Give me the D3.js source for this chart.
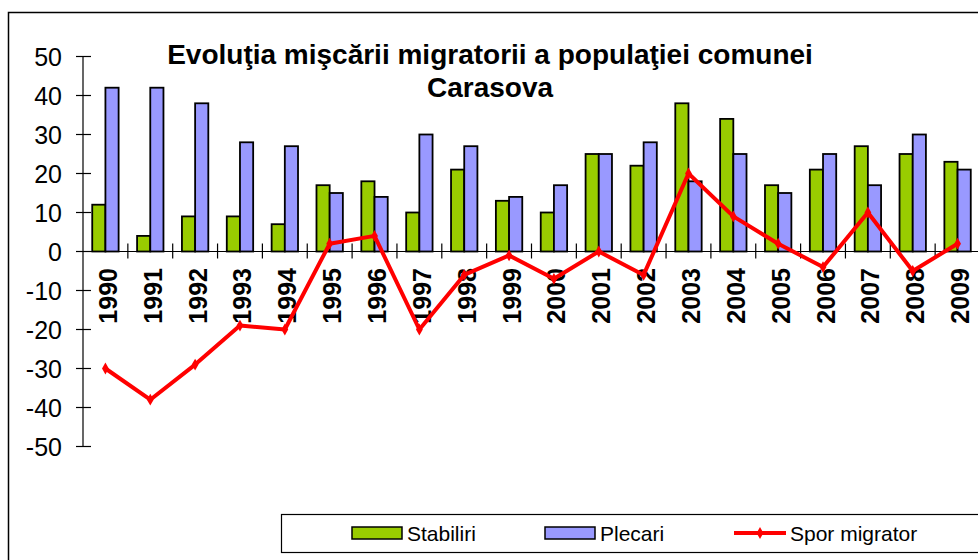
<!DOCTYPE html>
<html>
<head>
<meta charset="utf-8">
<script src="https://cdn.jsdelivr.net/npm/d3@7"></script>
<style>
  html, body { margin: 0; padding: 0; background: #fff; overflow: hidden; }
  svg { display: block; font-family: Arial, "Liberation Sans", sans-serif; }
</style>
</head>
<body>
<svg id="chart" width="978" height="560"></svg>
<script>
// Data.
const years = ['1990', '1991', '1992', '1993', '1994', '1995', '1996', '1997', '1998', '1999',
  '2000', '2001', '2002', '2003', '2004', '2005', '2006', '2007', '2008', '2009'];
const stabiliri = [12, 4, 9, 9, 7, 17, 18, 10, 21, 13, 10, 25, 22, 38, 34, 17, 21, 27, 25, 23];
const plecari = [42, 42, 38, 28, 27, 15, 14, 30, 27, 14, 17, 25, 28, 18, 25, 15, 25, 17, 30, 21];
const sporMigrator = [-30, -38, -29, -19, -20, 2, 4, -20, -6, -1, -7, 0, -6, 20, 9, 2, -4, 10, -5, 2];
const yTicks = [50, 40, 30, 20, 10, 0, -10, -20, -30, -40, -50];
const titleLines = ['Evoluţia mişcării migratorii a populaţiei comunei', 'Carasova'];

const barSeries = [
  { name: 'Stabiliri', values: stabiliri, color: '#99cc00' },
  { name: 'Plecari', values: plecari, color: '#9999ff' }
];

const svg = d3.select('#chart');

// Outer chart frame (runs off the right and bottom edges).
svg.append('rect')
  .attr('x', 8.5).attr('y', 12.5)
  .attr('width', 1100).attr('height', 700)
  .attr('fill', '#fff')
  .attr('stroke', '#000')
  .attr('stroke-width', 1.5);

const x = d3.scaleBand().domain(years).range([83, 980]).padding(0);
const xs = d3.scaleBand().domain(barSeries.map((s) => s.name))
  .range([0, x.bandwidth()]).paddingInner(0).paddingOuter(0.7);
const y = d3.scaleLinear().domain([-50, 50]).range([446.5, 56.5]);

// Bars
const groups = svg.append('g').selectAll('g')
  .data(barSeries)
  .join('g')
  .attr('fill', (d) => d.color);

groups.selectAll('rect')
  .data((s) => s.values.map((v, i) => ({ name: s.name, year: years[i], value: v })))
  .join('rect')
  .attr('x', (d) => x(d.year) + xs(d.name))
  .attr('width', xs.bandwidth())
  .attr('y', (d) => y(Math.max(0, d.value)))
  .attr('height', (d) => Math.abs(y(d.value) - y(0)))
  .attr('stroke', '#000')
  .attr('stroke-width', 1.8);

// Y axis (crossing ticks)
const yAxis = svg.append('g').attr('class', 'y-axis');
yAxis.append('line')
  .attr('x1', 83).attr('x2', 83)
  .attr('y1', y(50)).attr('y2', y(-50))
  .attr('stroke', '#000').attr('stroke-width', 1.2);
yAxis.selectAll('line.tick')
  .data(yTicks)
  .join('line')
  .attr('class', 'tick')
  .attr('x1', 76).attr('x2', 91)
  .attr('y1', (d) => y(d)).attr('y2', (d) => y(d))
  .attr('stroke', '#000').attr('stroke-width', 1.2);
yAxis.selectAll('text')
  .data(yTicks)
  .join('text')
  .attr('x', 62)
  .attr('y', (d) => y(d) + 9)
  .attr('text-anchor', 'end')
  .attr('font-size', 25)
  .attr('fill', '#000')
  .text((d) => d);

// X axis at zero
const xAxis = svg.append('g').attr('class', 'x-axis');
xAxis.append('line')
  .attr('x1', 83).attr('x2', 980)
  .attr('y1', y(0)).attr('y2', y(0))
  .attr('stroke', '#000').attr('stroke-width', 1.2);
xAxis.selectAll('line.tick')
  .data(years.slice(1))
  .join('line')
  .attr('class', 'tick')
  .attr('x1', (d) => x(d)).attr('x2', (d) => x(d))
  .attr('y1', y(0) - 8).attr('y2', y(0) + 7)
  .attr('stroke', '#000').attr('stroke-width', 1.2);
xAxis.selectAll('text')
  .data(years)
  .join('text')
  .attr('transform', (d) => `translate(${x(d) + x.bandwidth() / 2 + 11.5},268) rotate(-90)`)
  .attr('text-anchor', 'end')
  .attr('font-size', 25)
  .attr('font-weight', 'bold')
  .attr('fill', '#000')
  .text((d) => d);

// Spor migrator line
const linePts = sporMigrator.map((v, i) => ({ year: years[i], value: v }));
const line = d3.line()
  .x((d) => x(d.year) + x.bandwidth() / 2)
  .y((d) => y(d.value));
svg.append('path')
  .datum(linePts)
  .attr('d', line)
  .attr('fill', 'none')
  .attr('stroke', '#ff0000')
  .attr('stroke-width', 4)
  .attr('stroke-linejoin', 'round');
svg.append('g').selectAll('path')
  .data(linePts)
  .join('path')
  .attr('transform', (d) => `translate(${x(d.year) + x.bandwidth() / 2},${y(d.value)})`)
  .attr('d', d3.symbol(d3.symbolDiamond, 40))
  .attr('fill', '#ff0000');

// Title
svg.append('text')
  .attr('x', 490)
  .attr('text-anchor', 'middle')
  .attr('font-size', 28)
  .attr('font-weight', 'bold')
  .attr('fill', '#000')
  .selectAll('tspan')
  .data(titleLines)
  .join('tspan')
  .attr('x', 490)
  .attr('y', (d, i) => 64 + i * 33)
  .text((d) => d);

// Legend
const legend = svg.append('g').attr('class', 'legend');
legend.append('rect')
  .attr('x', 281.5).attr('y', 514.5)
  .attr('width', 800).attr('height', 38)
  .attr('fill', '#fff')
  .attr('stroke', '#000').attr('stroke-width', 1.2);
const legendX = [352, 545];
barSeries.forEach((s, i) => {
  legend.append('rect')
    .attr('x', legendX[i]).attr('y', 527)
    .attr('width', 50).attr('height', 12)
    .attr('fill', s.color)
    .attr('stroke', '#000').attr('stroke-width', 1.5);
  legend.append('text')
    .attr('x', legendX[i] + 55).attr('y', 541)
    .attr('font-size', 21)
    .attr('fill', '#000')
    .text(s.name);
});
legend.append('line')
  .attr('x1', 734).attr('x2', 786)
  .attr('y1', 533).attr('y2', 533)
  .attr('stroke', '#ff0000').attr('stroke-width', 4);
legend.append('path')
  .attr('transform', 'translate(760,533)')
  .attr('d', d3.symbol(d3.symbolDiamond, 40))
  .attr('fill', '#ff0000');
legend.append('text')
  .attr('x', 790).attr('y', 541)
  .attr('font-size', 21)
  .attr('fill', '#000')
  .text('Spor migrator');
</script>
</body>
</html>
